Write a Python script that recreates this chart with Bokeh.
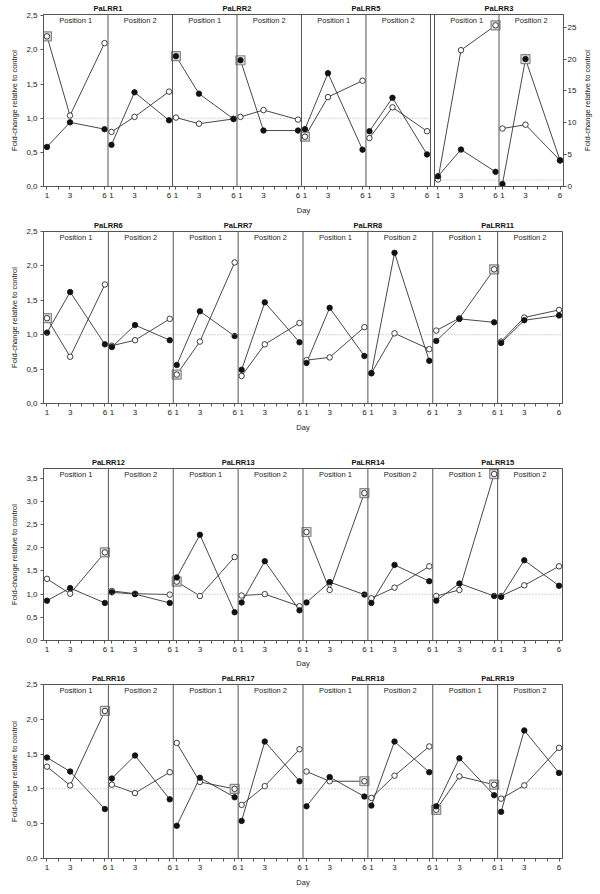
import math
from bokeh.plotting import figure
from bokeh.models import (Range1d, LinearAxis, FixedTicker, CustomJSTickFormatter,
                          Span, Label, ColumnDataSource)
from bokeh.layouts import column, row
from bokeh.embed import file_html
from bokeh.resources import INLINE

# ---------------- data ----------------
DAYS = [1, 3, 6]
POSITIONS = ["Position 1", "Position 2"]
X_TICK_LABELS = ["1", "", "3", "", "", "6"]   # ticks at days 1..6

ROW1_GENES = ["PaLRR1", "PaLRR2", "PaLRR5", "PaLRR3"]
ROW2_GENES = ["PaLRR6", "PaLRR7", "PaLRR8", "PaLRR11"]
ROW3_GENES = ["PaLRR12", "PaLRR13", "PaLRR14", "PaLRR15"]
ROW4_GENES = ["PaLRR16", "PaLRR17", "PaLRR18", "PaLRR19"]

Y_TICKS_25 = [0, 0.5, 1.0, 1.5, 2.0, 2.5]
Y_TICKS_35 = [0, 0.5, 1.0, 1.5, 2.0, 2.5, 3.0, 3.5]
Y_TICKS_RIGHT = [0, 5, 10, 15, 20, 25]

# each list: Position 1 (day 1, 3, 6) then Position 2 (day 1, 3, 6)
PaLRR1_FILLED = [0.58, 0.94, 0.84, 0.61, 1.38, 0.97]
PaLRR1_OPEN = [2.20, 1.04, 2.10, 0.80, 1.02, 1.39]
PaLRR2_FILLED = [1.91, 1.36, 0.99, 1.85, 0.82, 0.82]
PaLRR2_OPEN = [1.01, 0.92, 0.99, 1.02, 1.12, 0.98]
PaLRR5_FILLED = [0.84, 1.66, 0.54, 0.81, 1.30, 0.47]
PaLRR5_OPEN = [0.73, 1.31, 1.55, 0.71, 1.16, 0.81]
PaLRR3_FILLED = [1.6, 5.8, 2.3, 0.4, 20.0, 4.1]
PaLRR3_OPEN = [1.1, 21.4, 25.3, 9.1, 9.7, 4.1]

PaLRR6_FILLED = [1.03, 1.62, 0.86, 0.82, 1.14, 0.92]
PaLRR6_OPEN = [1.24, 0.68, 1.73, 0.84, 0.92, 1.23]
PaLRR7_FILLED = [0.56, 1.34, 0.98, 0.49, 1.47, 0.89]
PaLRR7_OPEN = [0.42, 0.90, 2.05, 0.40, 0.86, 1.17]
PaLRR8_FILLED = [0.59, 1.39, 0.69, 0.44, 2.19, 0.62]
PaLRR8_OPEN = [0.63, 0.67, 1.11, 0.44, 1.02, 0.79]
PaLRR11_FILLED = [0.91, 1.23, 1.18, 0.88, 1.21, 1.28]
PaLRR11_OPEN = [1.06, 1.24, 1.95, 0.90, 1.25, 1.36]

PaLRR12_FILLED = [0.86, 1.13, 0.81, 1.04, 1.00, 0.81]
PaLRR12_OPEN = [1.33, 1.01, 1.90, 1.07, 1.01, 0.99]
PaLRR13_FILLED = [1.36, 2.28, 0.61, 0.82, 1.71, 0.65]
PaLRR13_OPEN = [1.27, 0.96, 1.80, 0.97, 1.00, 0.74]
PaLRR14_FILLED = [0.82, 1.26, 0.99, 0.81, 1.63, 1.28]
PaLRR14_OPEN = [2.34, 1.09, 3.18, 0.91, 1.14, 1.60]
PaLRR15_FILLED = [0.86, 1.23, 0.96, 0.94, 1.73, 1.18]
PaLRR15_OPEN = [0.96, 1.09, 3.59, 0.96, 1.19, 1.60]

PaLRR16_FILLED = [1.45, 1.25, 0.71, 1.15, 1.48, 0.85]
PaLRR16_OPEN = [1.32, 1.05, 2.12, 1.06, 0.94, 1.24]
PaLRR17_FILLED = [0.47, 1.16, 0.88, 0.54, 1.68, 1.11]
PaLRR17_OPEN = [1.66, 1.10, 1.00, 0.77, 1.04, 1.57]
PaLRR18_FILLED = [0.75, 1.17, 0.89, 0.76, 1.68, 1.24]
PaLRR18_OPEN = [1.25, 1.11, 1.11, 0.87, 1.19, 1.61]
PaLRR19_FILLED = [0.75, 1.44, 0.91, 0.67, 1.84, 1.23]
PaLRR19_OPEN = [0.70, 1.18, 1.06, 0.86, 1.05, 1.59]

# significance boxes: (series, position index, day)
PaLRR1_SIG = [("open", 0, 1)]
PaLRR2_SIG = [("filled", 0, 1), ("filled", 1, 1)]
PaLRR5_SIG = [("open", 0, 1)]
PaLRR3_SIG = [("open", 0, 6), ("filled", 1, 3)]
PaLRR6_SIG = [("open", 0, 1)]
PaLRR7_SIG = [("open", 0, 1)]
PaLRR8_SIG = []
PaLRR11_SIG = [("open", 0, 6)]
PaLRR12_SIG = [("open", 0, 6)]
PaLRR13_SIG = [("open", 0, 1)]
PaLRR14_SIG = [("open", 0, 1), ("open", 0, 6)]
PaLRR15_SIG = [("open", 0, 6)]
PaLRR16_SIG = [("open", 0, 6)]
PaLRR17_SIG = [("open", 0, 6)]
PaLRR18_SIG = [("open", 0, 6)]
PaLRR19_SIG = [("open", 0, 1), ("open", 0, 6)]

GENES = {
    "PaLRR1": (PaLRR1_FILLED, PaLRR1_OPEN, PaLRR1_SIG),
    "PaLRR2": (PaLRR2_FILLED, PaLRR2_OPEN, PaLRR2_SIG),
    "PaLRR5": (PaLRR5_FILLED, PaLRR5_OPEN, PaLRR5_SIG),
    "PaLRR3": (PaLRR3_FILLED, PaLRR3_OPEN, PaLRR3_SIG),
    "PaLRR6": (PaLRR6_FILLED, PaLRR6_OPEN, PaLRR6_SIG),
    "PaLRR7": (PaLRR7_FILLED, PaLRR7_OPEN, PaLRR7_SIG),
    "PaLRR8": (PaLRR8_FILLED, PaLRR8_OPEN, PaLRR8_SIG),
    "PaLRR11": (PaLRR11_FILLED, PaLRR11_OPEN, PaLRR11_SIG),
    "PaLRR12": (PaLRR12_FILLED, PaLRR12_OPEN, PaLRR12_SIG),
    "PaLRR13": (PaLRR13_FILLED, PaLRR13_OPEN, PaLRR13_SIG),
    "PaLRR14": (PaLRR14_FILLED, PaLRR14_OPEN, PaLRR14_SIG),
    "PaLRR15": (PaLRR15_FILLED, PaLRR15_OPEN, PaLRR15_SIG),
    "PaLRR16": (PaLRR16_FILLED, PaLRR16_OPEN, PaLRR16_SIG),
    "PaLRR17": (PaLRR17_FILLED, PaLRR17_OPEN, PaLRR17_SIG),
    "PaLRR18": (PaLRR18_FILLED, PaLRR18_OPEN, PaLRR18_SIG),
    "PaLRR19": (PaLRR19_FILLED, PaLRR19_OPEN, PaLRR19_SIG),
}

# ---------------- style ----------------
FONT = "Liberation Sans"
EDGE = "#555555"
INK = "#222222"
W = 5.6        # width of one position panel in day units
X0 = 0.7       # left edge of a panel in day units
YLABEL = "Fold-change relative to control"

COMMA_FMT = "return tick.toFixed(1).replace('.', ',');"
PICK_FMT = """
    let best = 0; let bd = 1e9;
    for (let i = 0; i < ts.length; i++) {
        const d = Math.abs(ts[i] - tick);
        if (d < bd) { bd = d; best = i; }
    }
    return labs[best];"""


def style_axis(ax, size="8px"):
    ax.axis_line_color = EDGE
    ax.major_tick_line_color = EDGE
    ax.minor_tick_line_color = None
    ax.major_tick_out = 3
    ax.major_tick_in = 0
    ax.major_label_standoff = 3
    ax.major_label_text_font = FONT
    ax.major_label_text_font_size = size
    ax.major_label_text_color = INK
    ax.axis_label_text_font = FONT
    ax.axis_label_text_font_size = "7.5px"
    ax.axis_label_text_font_style = "normal"
    ax.axis_label_text_color = INK


def build_row(genes, ymax, yticks, width, height, top, bottom, left, right,
              gap=0.0, right_gene=None, rmax=None, day_standoff=5):
    n = 2 * len(genes)
    offs = [i * W + (gap if (gap > 0 and i >= 6) else 0.0) for i in range(n)]
    xend = X0 + n * W + gap
    p = figure(width=width, height=height, x_range=Range1d(X0, xend),
               y_range=Range1d(0, ymax), output_backend="svg",
               toolbar_location=None, min_border_left=left,
               min_border_right=right, min_border_top=top,
               min_border_bottom=bottom, background_fill_color="white",
               border_fill_color="white")
    p.grid.visible = False
    p.outline_line_color = EDGE
    p.outline_line_width = 1

    if right_gene is not None:
        p.extra_y_ranges = {"r": Range1d(0, rmax)}

    # x axis (days)
    xt = [o + d for o in offs for d in range(1, 7)]
    labs = [X_TICK_LABELS[d - 1] for o in offs for d in range(1, 7)]
    xa = p.xaxis[0]
    xa.ticker = FixedTicker(ticks=xt)
    xa.formatter = CustomJSTickFormatter(args=dict(ts=xt, labs=labs), code=PICK_FMT)
    xa.axis_label = "Day"
    style_axis(xa)
    xa.axis_label_standoff = day_standoff

    # y axis
    ya = p.yaxis[0]
    ya.ticker = FixedTicker(ticks=yticks)
    ya.formatter = CustomJSTickFormatter(code=COMMA_FMT)
    ya.axis_label = YLABEL
    style_axis(ya)
    ya.axis_label_standoff = 4

    # gene titles as an axis above the frame
    centers = [offs[2 * k] + W + X0 for k in range(len(genes))]
    ta = LinearAxis(ticker=FixedTicker(ticks=centers),
                    formatter=CustomJSTickFormatter(
                        args=dict(ts=centers, labs=list(genes)), code=PICK_FMT))
    ta.axis_line_color = None
    ta.major_tick_line_color = None
    ta.minor_tick_line_color = None
    ta.major_tick_out = 0
    ta.major_tick_in = 0
    ta.major_label_standoff = 2
    ta.major_label_text_font = FONT
    ta.major_label_text_font_size = "7.5px"
    ta.major_label_text_font_style = "bold"
    ta.major_label_text_color = "#111111"
    p.add_layout(ta, "above")

    if right_gene is not None:
        ra = LinearAxis(y_range_name="r", ticker=FixedTicker(ticks=Y_TICKS_RIGHT))
        style_axis(ra)
        ra.major_label_standoff = 1
        p.add_layout(ra, "right")

    # reference lines at 1.0
    if right_gene is None:
        p.add_layout(Span(location=1.0, dimension="width", line_color="#aaaaaa",
                          line_dash="1 2", line_width=1))
    else:
        p.segment(x0=[X0], x1=[X0 + 6 * W], y0=[1.0], y1=[1.0],
                  line_color="#aaaaaa", line_dash="1 2", line_width=1)
        p.segment(x0=[X0 + offs[6]], x1=[xend], y0=[1.0], y1=[1.0],
                  line_color="#aaaaaa", line_dash="1 2", line_width=1,
                  y_range_name="r")

    # panel dividers
    divs = [X0 + offs[i] for i in range(1, n)]
    if gap > 0:
        divs.append(X0 + 6 * W)
    for d in divs:
        p.add_layout(Span(location=d, dimension="height", line_color=EDGE,
                          line_width=1))

    for k, g in enumerate(genes):
        filled, opn, sig = GENES[g]
        rng = "r" if g == right_gene else "default"
        for j in range(2):
            o = offs[2 * k + j]
            p.add_layout(Label(x=X0 + o + W / 2, y=ymax, y_offset=-6,
                               text=POSITIONS[j], text_align="center",
                               text_baseline="middle", text_font=FONT,
                               text_font_size="7.5px", text_color=INK))
            xs = [o + d for d in DAYS]
            fv = filled[3 * j:3 * j + 3]
            ov = opn[3 * j:3 * j + 3]
            src_f = ColumnDataSource(dict(x=xs, y=fv))
            src_o = ColumnDataSource(dict(x=xs, y=ov))
            p.line("x", "y", source=src_f, line_color="#333333", line_width=0.9,
                   y_range_name=rng)
            p.line("x", "y", source=src_o, line_color="#333333", line_width=0.9,
                   y_range_name=rng)
            sx, sy = [], []
            for (series, pj, day) in sig:
                if pj == j:
                    vals = fv if series == "filled" else ov
                    sx.append(o + day)
                    sy.append(vals[DAYS.index(day)])
            if sx:
                p.scatter(x=sx, y=sy, marker="square", size=9,
                          fill_color="#dddddd", line_color="#888888",
                          line_width=1.2, y_range_name=rng)
            p.scatter("x", "y", source=src_o, marker="circle", size=5.5,
                      fill_color="white", line_color="#111111", line_width=0.8,
                      y_range_name=rng)
            p.scatter("x", "y", source=src_f, marker="circle", size=5.5,
                      fill_color="#111111", line_color="#111111", line_width=0.8,
                      y_range_name=rng)
    return p


def side_label(width, height, top, bottom):
    """A narrow strip carrying the right-hand axis title (reads bottom to top)."""
    q = figure(width=width, height=height, x_range=Range1d(0, 1),
               y_range=Range1d(0, 1), output_backend="svg",
               toolbar_location=None, min_border_left=0, min_border_right=0,
               min_border_top=top, min_border_bottom=bottom,
               background_fill_color="white", border_fill_color="white")
    q.grid.visible = False
    q.outline_line_color = None
    q.xaxis.visible = False
    ax = q.yaxis[0]
    ax.ticker = FixedTicker(ticks=[])
    ax.axis_line_color = None
    ax.major_tick_line_color = None
    ax.minor_tick_line_color = None
    ax.major_tick_out = 0
    ax.major_label_standoff = 0
    ax.axis_label = YLABEL
    ax.axis_label_standoff = 0
    ax.axis_label_text_font = FONT
    ax.axis_label_text_font_size = "7.5px"
    ax.axis_label_text_font_style = "normal"
    ax.axis_label_text_color = INK
    return q


p1 = build_row(ROW1_GENES, 2.52, Y_TICKS_25, width=579, height=217, top=14,
               bottom=30, left=43, right=13, gap=0.35, right_gene="PaLRR3",
               rmax=27.0)
p1r = side_label(21, 217, 14, 30)
p2 = build_row(ROW2_GENES, 2.5, Y_TICKS_25, width=600, height=228, top=12,
               bottom=42, left=43, right=37)
p3 = build_row(ROW3_GENES, 3.71, Y_TICKS_35, width=600, height=225, top=23,
               bottom=29, left=38, right=38, day_standoff=4)
p4 = build_row(ROW4_GENES, 2.5, Y_TICKS_25, width=600, height=222, top=14,
               bottom=34, left=39, right=38)

layout = column(row(p1, p1r, spacing=0), p2, p3, p4, spacing=0)
open("out.html", "w").write(file_html(layout, INLINE))
